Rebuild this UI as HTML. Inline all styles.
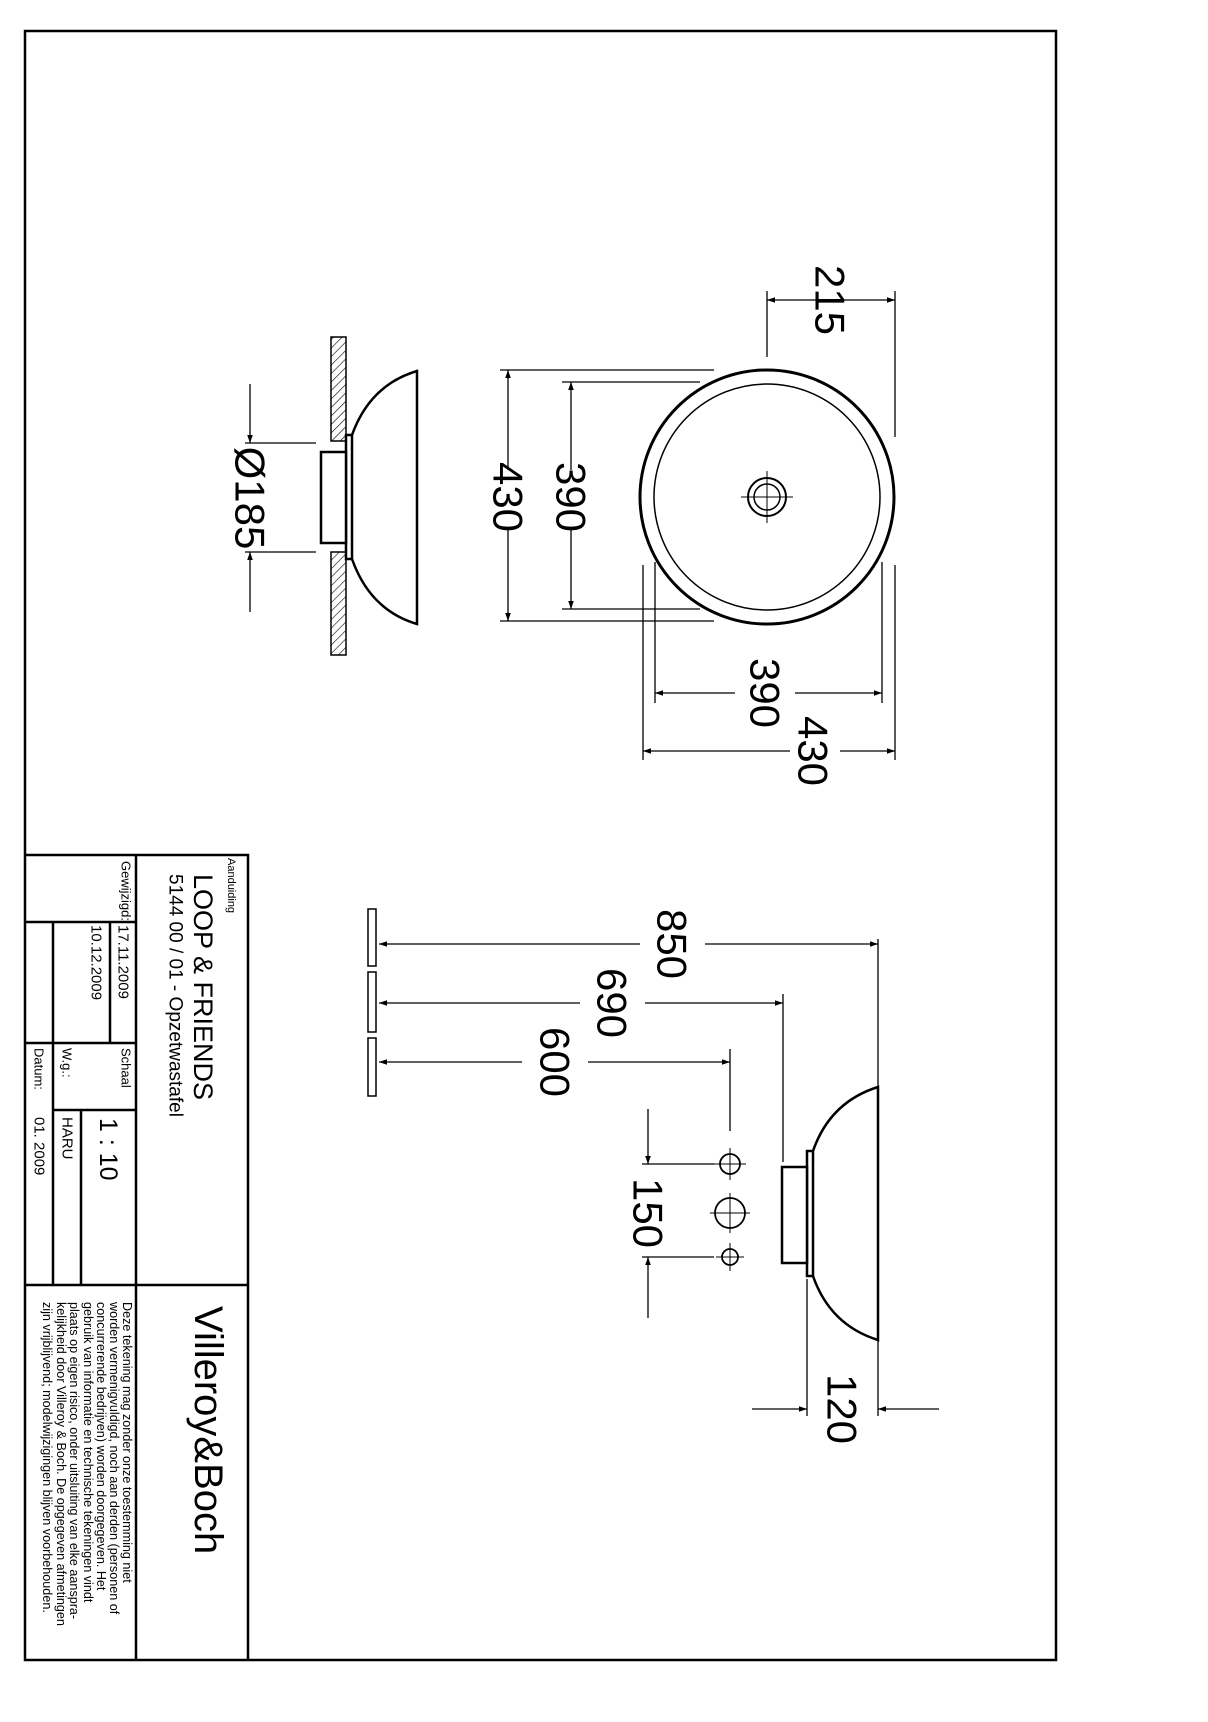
<!DOCTYPE html>
<html><head><meta charset="utf-8"><style>
html,body{margin:0;padding:0;background:#fff}
svg{display:block}
text{font-family:"Liberation Sans",sans-serif;fill:#000}
</style></head><body>
<svg width="1208" height="1722" viewBox="0 0 1208 1722" xmlns="http://www.w3.org/2000/svg">
<defs>
<pattern id="h" width="6" height="6" patternUnits="userSpaceOnUse" patternTransform="rotate(45)">
<line x1="0" y1="0" x2="0" y2="6" stroke="#000" stroke-width="1.2"/></pattern>
<marker id="a" viewBox="0 0 10 10" refX="10" refY="5" markerWidth="22" markerHeight="8" markerUnits="userSpaceOnUse" orient="auto"><path d="M0,1.5 L10,5 L0,8.5z" fill="#000"/></marker>
</defs>
<g fill="none" stroke="#000" stroke-width="2.5">
<rect x="25" y="31" width="1031" height="1629"/>
</g>
<!-- title block -->
<g fill="none" stroke="#000" stroke-width="2.5">
<path d="M25 855 H248 V1660"/>
<path d="M25 1285 H248"/>
<path d="M136 855 V1660"/>
<path d="M25 922 H136 M25 1043 H136 M53 1110 H136"/>
<path d="M53 922 V1285 M81 1110 V1285 M110 922 V1043"/>
</g>
<g font-size="11"><text transform="translate(231,858) rotate(90)" dominant-baseline="central">Aanduiding</text></g>
<text transform="translate(203,874) rotate(90)" dominant-baseline="central" font-size="27">LOOP &amp; FRIENDS</text>
<text transform="translate(175,874) rotate(90)" dominant-baseline="central" font-size="19">5144 00 / 01 - Opzetwastafel</text>
<g font-size="13">
<text transform="translate(126,861) rotate(90)" dominant-baseline="central">Gewijzigd:</text>
<text transform="translate(123,925) rotate(90)" dominant-baseline="central" font-size="15">17.11.2009</text>
<text transform="translate(96,925) rotate(90)" dominant-baseline="central" font-size="15">10.12.2009</text>
<text transform="translate(126,1048) rotate(90)" dominant-baseline="central">Schaal</text>
<text transform="translate(67,1048) rotate(90)" dominant-baseline="central">W.g.:</text>
<text transform="translate(39,1048) rotate(90)" dominant-baseline="central">Datum:</text>
<text transform="translate(67,1117) rotate(90)" dominant-baseline="central" font-size="15">HARU</text>
<text transform="translate(39,1117) rotate(90)" dominant-baseline="central" font-size="15">01. 2009</text>
</g>
<text transform="translate(108,1118) rotate(90)" dominant-baseline="central" font-size="25">1 : 10</text>
<text transform="translate(208,1306) rotate(90)" dominant-baseline="central" font-size="40">Villeroy&amp;Boch</text>
<g font-size="12.6">
<text transform="translate(127,1302) rotate(90)" dominant-baseline="central">Deze tekening mag zonder onze toestemming niet</text>
<text transform="translate(114,1302) rotate(90)" dominant-baseline="central">worden vermenigvuldigd, noch aan derden  (personen of</text>
<text transform="translate(101,1302) rotate(90)" dominant-baseline="central">concurrerende bedrijven) worden doorgegeven. Het</text>
<text transform="translate(88,1302) rotate(90)" dominant-baseline="central">gebruik van informatie en technische tekeningen  vindt</text>
<text transform="translate(74,1302) rotate(90)" dominant-baseline="central">plaats op eigen risico, onder uitsluiting van elke aanspra-</text>
<text transform="translate(61,1302) rotate(90)" dominant-baseline="central">kelijkheid door Villeroy &amp; Boch. De opgegeven afmetingen</text>
<text transform="translate(47,1302) rotate(90)" dominant-baseline="central">zijn vrijblijvend; modelwijzigingen blijven voorbehouden.</text>
</g>

<!-- plan view -->
<g fill="none" stroke="#000">
<circle cx="767" cy="497" r="127" stroke-width="3"/>
<circle cx="767" cy="497" r="113" stroke-width="1.5"/>
<circle cx="767" cy="497" r="19" stroke-width="2"/>
<circle cx="767" cy="497" r="13" stroke-width="1.5"/>
<path d="M741 497 H793 M767 471 V523" stroke-width="1"/>
<g stroke-width="1.3">
<path d="M767 291 V357 M895 291 V437"/>
<path d="M500 370 H714 M500 621 H714"/>
<path d="M562 382 H700 M562 609 H700"/>
<path d="M655 562 V703 M882 562 V703"/>
<path d="M643 565 V760 M895 565 V760"/>
</g>
<g stroke-width="1.3" marker-end="url(#a)">
<path d="M830 300 H767"/><path d="M830 300 H895"/>
<path d="M508 470 V370"/><path d="M508 530 V621"/>
<path d="M571 470 V382"/><path d="M571 530 V609"/>
<path d="M735 693 H655"/><path d="M795 693 H882"/>
<path d="M790 751 H643"/><path d="M840 751 H895"/>
</g>
</g>
<g font-size="42">
<text transform="translate(830,300) rotate(90)" text-anchor="middle" dominant-baseline="central">215</text>
<text transform="translate(508,497) rotate(90)" text-anchor="middle" dominant-baseline="central">430</text>
<text transform="translate(571,497) rotate(90)" text-anchor="middle" dominant-baseline="central">390</text>
<text transform="translate(765,693) rotate(90)" text-anchor="middle" dominant-baseline="central">390</text>
<text transform="translate(813,751) rotate(90)" text-anchor="middle" dominant-baseline="central">430</text>
</g>

<!-- side view top -->
<rect x="331" y="337" width="15" height="104" fill="url(#h)" stroke="#000" stroke-width="1.5"/>
<rect x="331" y="552" width="15" height="103" fill="url(#h)" stroke="#000" stroke-width="1.5"/>
<g fill="none" stroke="#000" stroke-width="2.5">
<rect x="346" y="435" width="6" height="124" fill="#fff"/>
<rect x="321" y="452" width="25" height="91" fill="#fff"/>
<path d="M352 435 Q370 385 417 371 V624 Q370 610 352 559"/>
</g>
<g fill="none" stroke="#000" stroke-width="1.3">
<path d="M245 443 H316 M245 552 H316"/>
<path d="M250 384 V443" marker-end="url(#a)"/>
<path d="M250 612 V552" marker-end="url(#a)"/>
</g>
<text transform="translate(250,498) rotate(90)" text-anchor="middle" dominant-baseline="central" font-size="42">Ø185</text>

<!-- side view bottom -->
<g fill="#fff" stroke="#000" stroke-width="1.5">
<rect x="368" y="909" width="8" height="57"/>
<rect x="368" y="972" width="8" height="60"/>
<rect x="368" y="1038" width="8" height="58"/>
</g>
<g fill="none" stroke="#000" stroke-width="2.5">
<rect x="807" y="1151" width="6" height="125" fill="#fff"/>
<rect x="782" y="1167" width="25" height="96" fill="#fff"/>
<path d="M813 1151 Q830 1102 878 1087 V1340 Q830 1325 813 1276"/>
</g>
<g fill="none" stroke="#000" stroke-width="1.3">
<path d="M878 939 V1087 M783 994 V1162 M730 1049 V1131"/>
<path d="M807 1279 V1416 M878 1340 V1416"/>
<path d="M642 1164 H714 M642 1257 H714"/>
<g marker-end="url(#a)">
<path d="M640 944 H379"/><path d="M705 944 H878"/>
<path d="M580 1003 H379"/><path d="M645 1003 H783"/>
<path d="M522 1062 H379"/><path d="M588 1062 H730"/>
<path d="M752 1409 H807"/><path d="M939 1409 H878"/>
<path d="M648 1109 V1164"/><path d="M648 1318 V1257"/>
</g>
<circle cx="730" cy="1164" r="10" stroke-width="1.8"/>
<circle cx="730" cy="1213" r="15" stroke-width="1.8"/>
<circle cx="730" cy="1257" r="8" stroke-width="1.8"/>
<path d="M714 1164 H746 M730 1148 V1180 M710 1213 H750 M730 1193 V1233 M716 1257 H744 M730 1243 V1271" stroke-width="1"/>
</g>
<g font-size="42">
<text transform="translate(672,944) rotate(90)" text-anchor="middle" dominant-baseline="central">850</text>
<text transform="translate(612,1003) rotate(90)" text-anchor="middle" dominant-baseline="central">690</text>
<text transform="translate(555,1062) rotate(90)" text-anchor="middle" dominant-baseline="central">600</text>
<text transform="translate(648,1213) rotate(90)" text-anchor="middle" dominant-baseline="central">150</text>
<text transform="translate(842,1409) rotate(90)" text-anchor="middle" dominant-baseline="central">120</text>
</g>
</svg>
</body></html>
